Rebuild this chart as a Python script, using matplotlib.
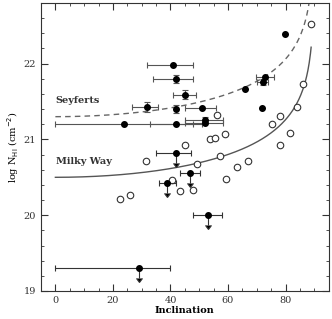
import numpy as np
import matplotlib
matplotlib.use('Agg')
import matplotlib.pyplot as plt
from matplotlib.ticker import MultipleLocator

# Seyferts (puntos llenos) - detecciones
sy_x = [41.0, 41.9, 45.0, 31.8, 42.0, 51.0, 23.9, 42.0, 52.1, 52.1, 79.9, 72.9, 72.0, 65.9, 71.8]
sy_y = [21.98, 21.80, 21.59, 21.43, 21.40, 21.41, 21.21, 21.21, 21.26, 21.22, 22.39, 21.83, 21.76, 21.67, 21.42]
sy_xerr_lo = [9.0, 8.0, 4.0, 5.0, 0.0, 6.0, 23.9, 9.0, 7.0, 7.0, 0.0, 3.0, 2.0, 0.0, 0.0]
sy_xerr_hi = [7.0, 6.0, 4.0, 4.0, 0.0, 5.0, 24.0, 9.0, 6.0, 6.0, 0.0, 3.0, 2.0, 0.0, 0.0]
sy_yerr = [0.0, 0.05, 0.06, 0.07, 0.05, 0.0, 0.0, 0.0, 0.04, 0.0, 0.0, 0.0, 0.04, 0.0, 0.0]

# Seyferts - limites superiores
lim_x = [42.0, 46.9, 38.9, 53.0, 28.9]
lim_y = [20.82, 20.56, 20.42, 20.00, 19.30]
lim_xerr_lo = [7.0, 3.5, 3.0, 5.0, 28.9]
lim_xerr_hi = [5.0, 3.5, 3.0, 5.0, 11.0]

# Via Lactea (circulos abiertos)
mw_x = [22.5, 25.8, 31.6, 40.7, 43.4, 44.9, 47.7, 49.2, 53.8, 55.6, 56.1, 57.2,
        58.8, 59.3, 63.3, 66.9, 75.3, 78.1, 78.1, 81.4, 84.0, 86.0, 88.9]
mw_y = [20.21, 20.26, 20.72, 20.47, 20.32, 20.93, 20.33, 20.67, 21.01, 21.02, 21.32, 20.78,
        21.07, 20.48, 20.64, 20.72, 21.21, 21.31, 20.92, 21.09, 21.43, 21.73, 22.52]

# modelos: log N = log N0 - log cos(i)
logN0_mw = 20.5
logN0_sy = 21.3

fig = plt.figure(figsize=(3.32, 3.19), dpi=100)
ax = fig.add_axes([0.1235, 0.0878, 0.8665, 0.9028])
plt.rcParams['font.family'] = 'DejaVu Serif'

inc = np.linspace(0, 88.9, 400)
ax.plot(inc, logN0_mw - np.log10(np.cos(np.radians(inc))), color='#555555', lw=1.0)
inc2 = np.linspace(0, 88.5, 400)
ax.plot(inc2, logN0_sy - np.log10(np.cos(np.radians(inc2))), color='#666666', lw=1.0,
        ls=(0, (4, 3)))

ax.scatter(mw_x, mw_y, s=22, facecolors='white', edgecolors='#333333', linewidths=0.8, zorder=3)

ax.errorbar(sy_x, sy_y, xerr=[sy_xerr_lo, sy_xerr_hi], yerr=sy_yerr, fmt='o', color='black',
            ms=4, ecolor='#555555', elinewidth=0.8, capsize=2, capthick=0.8, zorder=4)
ax.errorbar(lim_x, lim_y, xerr=[lim_xerr_lo, lim_xerr_hi], yerr=0.13, uplims=True, fmt='o',
            color='black', ms=4, ecolor='#333333', elinewidth=0.8, capsize=2, capthick=0.8, zorder=4)

ax.text(0, 21.52, 'Seyferts', fontsize=7, fontweight='bold', color='#333333', va='center',
        family='DejaVu Serif')
ax.text(0.3, 20.71, 'Milky Way', fontsize=7, fontweight='bold', color='#333333', va='center',
        family='DejaVu Serif')

ax.set_xlim(-5, 95)
ax.set_ylim(19, 22.8)
ax.set_xticks([0, 20, 40, 60, 80])
ax.set_yticks([19, 20, 21, 22])
ax.xaxis.set_minor_locator(MultipleLocator(5))
ax.yaxis.set_minor_locator(MultipleLocator(0.2))
ax.tick_params(which='both', direction='in', top=True, right=True, labelsize=7, colors='#333333')
ax.tick_params(which='major', length=5)
ax.tick_params(which='minor', length=2.5)
for lab in ax.get_xticklabels() + ax.get_yticklabels():
    lab.set_family('DejaVu Serif')
for s in ax.spines.values():
    s.set_color('#333333')
    s.set_linewidth(0.8)

ax.set_xlabel('Inclination', fontsize=7, fontweight='bold', family='DejaVu Serif', labelpad=1)
ax.set_ylabel(r'log N$_{\rm HI}$ (cm$^{-2}$)', fontsize=7, family='DejaVu Serif', labelpad=2)

fig.savefig('out.png', dpi=100)
